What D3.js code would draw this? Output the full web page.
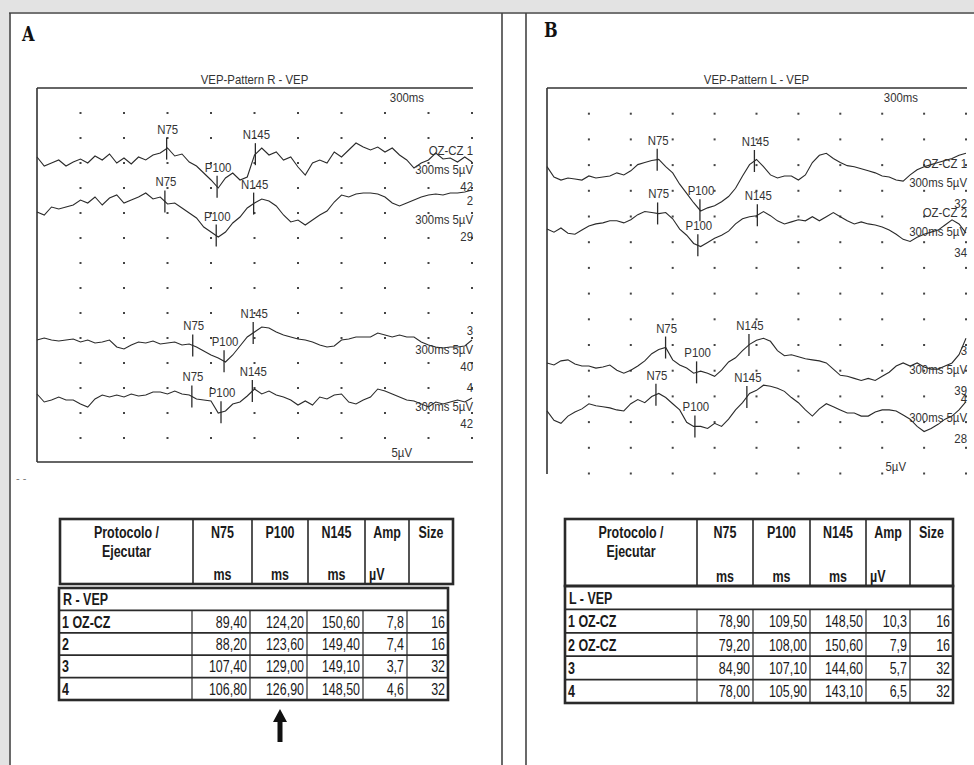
<!DOCTYPE html>
<html>
<head>
<meta charset="utf-8">
<script src="https://cdn.jsdelivr.net/npm/d3@7"></script>
<style>
body { margin: 0; background: #fff; }
</style>
</head>
<body>
<svg id="fig" width="974" height="765"></svg>
<script>
var sampleMs = d3.range(0, 301, 5);

// right eye traces (uV, + = up), every 5 ms
var waveR1 = [0.3,-0.6,-0.3,0,-0.6,-0.2,0.1,-0.3,0.4,0,
              0.6,-0.3,0.2,-0.4,0.3,0,0.5,0.7,1.2,0.4,
              0.6,-0.2,-0.6,-1.3,-2.0,-2.8,-1.8,-1.3,-2.0,-1.7,
              0.5,1.2,0.5,0.8,0,0.3,-0.7,-1.5,-0.3,0,
              -0.3,0.8,0.3,1.0,1.7,1.3,1.0,1.3,0.8,1.2,
              0.5,0,-0.8,-0.3,0,0.7,0.1,0.2,-0.2,0.3,
              -0.2];
var waveR2 = [-0.2,-0.5,0.3,0.1,0.3,0.5,1.0,0.7,1.3,0.5,
              1.2,1.5,0.7,1.0,1.3,1.7,1.1,1.3,0.6,0.7,
              0.2,-0.3,-0.8,-1.7,-2.2,-2.7,-2.2,-1.3,-0.7,0.2,
              0.7,1.1,0.9,0.4,-0.5,-1.2,-1.0,-1.5,-1.0,-0.5,
              -0.1,0.8,1.5,1.3,1.6,1.7,1.7,1.6,1.3,0.7,
              0.4,0.7,1.0,1.3,1.5,1.6,1.5,1.7,1.7,1.8,
              2.0];
var waveR3 = [0,0.2,0,-0.1,0,0.1,-0.2,0,-0.3,-0.2,
              0,-0.7,-0.9,-0.5,-0.2,-0.3,-0.1,-0.4,-0.3,-0.2,
              -0.5,-0.4,-0.7,-1.1,-1.5,-1.8,-2.2,-1.5,-0.6,0.3,
              0.8,1.3,1.2,0.8,0.5,0.3,0.1,0,-0.2,-0.5,
              -0.7,-0.6,0,0.1,0.3,0.3,0.3,0.7,0.5,0.3,
              0.5,0.3,0.3,-0.2,-0.5,-0.7,-0.8,-0.7,-0.7,-0.6,
              0];
var waveR4 = [0.3,-0.5,-0.3,0,-0.3,-0.3,-0.7,-1.0,-0.2,0.2,
              0,0.2,0,0.3,0.1,0.2,0.5,0.5,0.3,0.6,
              0.3,0.2,-0.2,-0.3,-0.4,-1.6,-1.4,-0.7,-0.5,0.1,
              0.8,0.3,0.6,0.2,0,-0.3,-0.8,-0.4,-0.8,0,
              -0.2,0.2,0.3,-0.5,-0.7,-0.3,0,0.8,0.6,0.3,
              0,-0.3,-0.4,-0.7,-1.0,-0.5,-0.7,-0.5,-0.3,-0.5,
              -0.1];

// left eye traces
var waveL1 = [1.1,0.1,-0.2,0,-0.1,-0.2,0.2,0,0.1,0.2,
              0.5,0.3,0.7,1.3,1.5,1.7,1.8,1.1,0.5,-0.6,
              -1.5,-2.4,-3.2,-2.9,-2.7,-2.3,-1.8,-1.0,0.2,1.3,
              1.8,1.1,0.3,0,0.2,0.2,-0.2,0.3,1.5,2.2,
              2.4,1.9,1.5,1.2,1.1,0.9,0.7,0.5,0.2,0.1,
              -0.2,-0.3,0.3,0.8,1.1,1.3,1.5,1.7,1.9,2.2,
              2.4];
var waveL2 = [-0.2,-0.5,-0.1,-0.6,-0.7,-0.3,0.1,0.3,0.4,0.6,
              0.6,0.4,0.7,1.2,1.5,1.4,1.3,1.4,0.8,-0.2,
              -0.8,-1.6,-1.9,-1.5,-1.1,-0.8,-0.4,0.3,0.8,1.0,
              1.1,1.5,1.1,0.6,0.3,0.5,0.7,0.6,1.0,0.6,
              1.0,1.4,1.0,0.6,0.3,0.5,0.3,0.2,0,-0.3,
              -0.7,-1.2,-1.4,-1.0,-0.7,-0.5,-0.3,0.2,0.7,0.3,
              -0.6];
var waveL3 = [0.2,0,0.4,0.5,0.1,-0.1,-0.1,-0.3,-0.2,0,
              -0.5,-0.8,-0.5,-0.1,0.4,1.1,1.5,1.7,0.5,0,
              -0.3,-0.8,-0.6,-0.8,-1.1,-0.5,0.3,0.7,1.4,2.0,
              2.4,2.6,2.3,1.4,0.9,1.0,0.8,0.6,0.5,0.4,
              0.2,-0.4,-1.0,-1.1,-1.3,-1.5,-1.3,-1.5,-1.1,-0.7,
              -0.1,0.2,-0.1,0.2,-0.2,-0.4,-0.4,-0.1,0.2,1.0,
              2.6];
var waveL4 = [0.2,-0.7,-1.0,-0.3,0.1,0.4,0.9,0.7,0.6,0.5,
              0.3,0.2,0.9,1.3,1.0,1.6,1.9,1.5,0.9,0.3,
              -0.9,-1.3,-1.3,-1.5,-1.0,-1.3,-0.6,0.3,1.0,1.9,
              2.2,2.7,2.6,2.4,2.1,1.5,1.0,0.3,-0.3,0.4,
              0.9,0.6,0.3,0,0,-0.3,-0.3,0.1,0.3,0.3,
              0.2,-0.2,-0.6,-1.3,-1.8,-1.5,-1.1,-0.6,-0.3,0.3,
              1.1];

var peakNames = ["N75", "P100", "N145"];

// table values
var latencyR = [[89.40, 124.20, 150.60], [88.20, 123.60, 149.40], [107.40, 129.00, 149.10], [106.80, 126.90, 148.50]];
var ampR = [7.8, 7.4, 3.7, 4.6];
var sizeR = [16, 16, 32, 32];
var rowLabelR = ["1 OZ-CZ", "2", "3", "4"];
var channelR = ["OZ-CZ 1", "2", "3", "4"];
var sweepNoR = [42, 29, 40, 42];

var latencyL = [[78.90, 109.50, 148.50], [79.20, 108.00, 150.60], [84.90, 107.10, 144.60], [78.00, 105.90, 143.10]];
var ampL = [10.3, 7.9, 5.7, 6.5];
var sizeL = [16, 16, 32, 32];
var rowLabelL = ["1 OZ-CZ", "2 OZ-CZ", "3", "4"];
var channelL = ["OZ-CZ 1", "OZ-CZ 2", "3", "4"];
var sweepNoL = [32, 34, 39, 28];

var headCols = ["N75", "P100", "N145", "Amp", "Size"];
var headUnits = ["ms", "ms", "ms", "µV", ""];

var svg = d3.select("#fig");
var ink = "#2a2a2a";
var plotFont = "'Liberation Sans', Arial, sans-serif";
var tableFont = "'Liberation Sans', Arial, sans-serif";

// page frame
svg.append("rect").attr("width", 974).attr("height", 765).attr("fill", "#fff");
svg.append("rect").attr("width", 974).attr("height", 12).attr("fill", "#e3e3e3");
svg.append("rect").attr("width", 9).attr("height", 765).attr("fill", "#e3e3e3");
[[9, 13, 974, 13], [10, 13, 10, 765], [502, 13, 502, 765], [526, 13, 526, 765]].forEach(function (l) {
    svg.append("line").attr("x1", l[0]).attr("y1", l[1]).attr("x2", l[2]).attr("y2", l[3])
        .attr("stroke", "#444").attr("stroke-width", 1.6);
});
svg.append("text").attr("x", 16).attr("y", 482).attr("fill", "#777")
    .style("font", "11px " + plotFont).text("- -");

function valueAt(w, t) {
    var j = Math.min(Math.floor(t / 5), w.length - 2);
    var f = (t - sampleMs[j]) / 5;
    return w[j] + (w[j + 1] - w[j]) * f;
}

function plotText(g, x, y, txt, anchor) {
    return g.append("text").attr("transform", "translate(" + x + "," + y + ") scale(0.95,1.05)")
        .attr("text-anchor", anchor || "middle")
        .attr("fill", "#333").style("font", "12px " + plotFont).text(txt);
}

function drawPanel(p) {
    var g = svg.append("g");
    var x = d3.scaleLinear().domain([0, 300]).range([p.left, p.right]);

    g.append("text").attr("transform", "translate(" + p.tagX + "," + p.tagY + ") scale(0.95,1.15)")
        .style("font", "bold 17px 'DejaVu Serif', 'Liberation Serif', serif").attr("fill", "#111").text(p.tag);
    plotText(g, (p.left + p.right) / 2, 84, p.title);

    var frame = [[p.left, p.top, p.right + 1, p.top], [p.left, p.top, p.left, p.bottom]];
    if (p.bottomLine) frame.push([p.left, p.bottom, p.right + 1, p.bottom]);
    frame.forEach(function (l) {
        g.append("line").attr("x1", l[0]).attr("y1", l[1]).attr("x2", l[2]).attr("y2", l[3])
            .attr("stroke", "#333").attr("stroke-width", 1.6);
    });

    // dot grid, one dot per 30 ms and per division
    var rows = d3.range(1, p.nRows + 1).map(function (k) { return p.top + k * p.rowH; });
    var cols = d3.range(30, 301, 30);
    rows.forEach(function (ry) {
        g.selectAll(null).data(cols).enter().append("rect")
            .attr("x", function (t) { return x(t) - 1; }).attr("y", ry - 1)
            .attr("width", 2).attr("height", 2).attr("fill", "#444");
    });

    plotText(g, p.right - 48, 102, "300ms", "end");
    plotText(g, p.right - 60, p.uvY, "5µV", "end");

    p.waves.forEach(function (w, i) {
        var y = d3.scaleLinear().domain([0, 1]).range([p.base[i], p.base[i] - p.pxPerUv]);
        var line = d3.line()
            .x(function (d, j) { return x(sampleMs[j]); })
            .y(function (d) { return y(d); });
        g.append("path").attr("d", line(w)).attr("fill", "none")
            .attr("stroke", ink).attr("stroke-width", 1.1);

        p.lat[i].forEach(function (t, k) {
            var mx = x(t), my = y(valueAt(w, t));
            g.append("line").attr("x1", mx).attr("x2", mx).attr("y1", my - 11).attr("y2", my + 11)
                .attr("stroke", ink).attr("stroke-width", 1.3);
            plotText(g, mx + 1, my - 15, peakNames[k]);
        });

        plotText(g, p.right + 1, p.base[i] + p.nameDy, p.channel[i], "end");
        plotText(g, p.right + 1, p.base[i] + p.scaleDy, "300ms 5µV", "end");
        plotText(g, p.right + 1, p.base[i] + p.numDy, p.sweepNo[i], "end");
    });
}

drawPanel({
    tag: "A", tagX: 22, tagY: 41, title: "VEP-Pattern R  - VEP",
    left: 37, right: 472, top: 88, bottom: 462, bottomLine: true,
    rowH: 25, nRows: 14, uvY: 457, pxPerUv: 10,
    base: [160, 210, 340, 397],
    waves: [waveR1, waveR2, waveR3, waveR4], lat: latencyR,
    channel: channelR, sweepNo: sweepNoR, nameDy: -5, scaleDy: 14, numDy: 31
});
drawPanel({
    tag: "B", tagX: 544, tagY: 37, title: "VEP-Pattern L  - VEP",
    left: 547, right: 966, top: 88, bottom: 474, bottomLine: false,
    rowH: 25.7, nRows: 15, uvY: 471, pxPerUv: 10.3,
    base: [178, 227, 365, 413],
    waves: [waveL1, waveL2, waveL3, waveL4], lat: latencyL,
    channel: channelL, sweepNo: sweepNoL, nameDy: -10, scaleDy: 9, numDy: 30
});

// ---- tables ----
function fmt(v, d) { return d3.format("." + d + "f")(v).replace(".", ","); }

function tText(g, x, y, txt, anchor, bold) {
    return g.append("text").attr("transform", "translate(" + x + "," + y + ") scale(0.86,1.2)")
        .attr("text-anchor", anchor).attr("fill", "#1a1a1a")
        .style("font", (bold ? "bold " : "") + "14.5px " + tableFont).text(txt);
}

function edges(x0, widths) {
    var e = [x0];
    widths.forEach(function (w) { e.push(e[e.length - 1] + w); });
    return e;
}

function drawTable(t) {
    var g = svg.append("g");
    var he = edges(t.x, t.headW);
    var be = edges(t.bx, t.bodyW);

    // header box
    g.append("rect").attr("x", he[0]).attr("y", t.y).attr("width", he[6] - he[0]).attr("height", t.headH)
        .attr("fill", "none").attr("stroke", ink).attr("stroke-width", 2.6);
    he.slice(1, 6).forEach(function (ex) {
        g.append("line").attr("x1", ex).attr("x2", ex).attr("y1", t.y).attr("y2", t.y + t.headH)
            .attr("stroke", ink).attr("stroke-width", 1.6);
    });
    tText(g, (he[0] + he[1]) / 2, t.y + 19, "Protocolo /", "middle", true);
    tText(g, (he[0] + he[1]) / 2, t.y + 38, "Ejecutar", "middle", true);
    headCols.forEach(function (c, k) {
        var cx = (he[k + 1] + he[k + 2]) / 2;
        tText(g, cx, t.y + 19, c, "middle", true);
        tText(g, k === 3 ? he[k + 1] + 4 : cx, t.y + t.headH - 4, headUnits[k], k === 3 ? "start" : "middle", true);
    });

    // body
    var by = t.by, rh = t.rowH;
    g.append("rect").attr("x", be[0]).attr("y", by).attr("width", be[6] - be[0]).attr("height", rh * 5)
        .attr("fill", "none").attr("stroke", ink).attr("stroke-width", 2.6);
    d3.range(1, 5).forEach(function (r) {
        g.append("line").attr("x1", be[0]).attr("x2", be[6]).attr("y1", by + r * rh).attr("y2", by + r * rh)
            .attr("stroke", ink).attr("stroke-width", 1.8);
    });
    be.slice(1, 6).forEach(function (ex) {
        g.append("line").attr("x1", ex).attr("x2", ex).attr("y1", by + rh).attr("y2", by + 5 * rh)
            .attr("stroke", ink).attr("stroke-width", 1.2);
    });
    tText(g, be[0] + 4, by + rh / 2 + 6, t.group, "start", true);

    t.lat.forEach(function (row, r) {
        var ty = by + (r + 1.5) * rh + 6;
        tText(g, be[0] + 3, ty, t.rowLabel[r], "start", true);
        var cells = [fmt(row[0], 2), fmt(row[1], 2), fmt(row[2], 2), fmt(t.amp[r], 1), String(t.size[r])];
        cells.forEach(function (c, k) {
            tText(g, be[k + 2] - 3, ty, c, "end", false);
        });
    });
    return he;
}

var headA = drawTable({
    x: 60, y: 519, headW: [133, 59, 56, 57, 44, 44], headH: 65,
    bx: 59, by: 588, bodyW: [133, 58, 57, 56, 44, 41], rowH: 22.4,
    group: "R  - VEP", lat: latencyR, amp: ampR, size: sizeR, rowLabel: rowLabelR
});
drawTable({
    x: 565, y: 519, headW: [132, 56, 57, 56, 44, 43], headH: 67,
    bx: 565, by: 586, bodyW: [132, 56, 57, 56, 44, 43], rowH: 23.4,
    group: "L  - VEP", lat: latencyL, amp: ampL, size: sizeL, rowLabel: rowLabelL
});

// arrow under the P100 column of table A
var ax = (headA[2] + headA[3]) / 2;
svg.append("path")
    .attr("d", "M" + ax + ",709 L" + (ax + 7) + ",722 L" + (ax + 2.5) + ",722 L" + (ax + 2.5) + ",742 L" +
        (ax - 2.5) + ",742 L" + (ax - 2.5) + ",722 L" + (ax - 7) + ",722 Z")
    .attr("fill", "#111");
</script>
</body>
</html>
